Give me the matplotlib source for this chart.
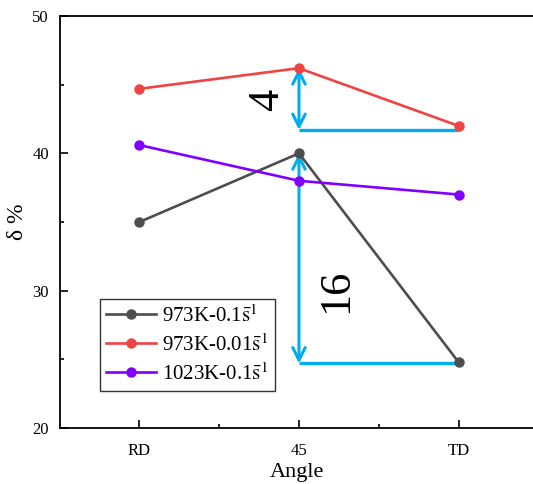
import matplotlib.pyplot as plt
from matplotlib.ticker import MultipleLocator

plt.rcParams['font.family'] = ['Liberation Serif', 'DejaVu Serif']
plt.rcParams['mathtext.fontset'] = 'stix'

angles = ["RD", "45", "TD"]
labels = [r"973K-0.1$\bar{\mathrm{s}}^{1}$", r"973K-0.01$\bar{\mathrm{s}}^{1}$",
          r"1023K-0.1$\bar{\mathrm{s}}^{1}$"]
gray_vals = [35.0, 40.0, 24.8]
red_vals = [44.7, 46.2, 42.0]
purple_vals = [40.6, 38.0, 37.0]
colors = ["#4d4d4d", "#f04343", "#7f00ff"]

# annotation levels (difference markers)
upper_low, upper_high = 41.7, 46.2
lower_low, lower_high = 24.7, 40.0
cyan = "#00aeef"


def main():
    fig = plt.figure(figsize=(5.33, 4.84), dpi=100)
    ax = fig.add_axes([60 / 533, 1 - 428 / 484, 1 - 60 / 533, (428 - 16) / 484])

    x = list(range(len(angles)))
    for vals, lab, c in zip([gray_vals, red_vals, purple_vals], labels, colors):
        ax.plot(x, vals, color=c, lw=1.9, marker='o', ms=6.5, label=lab, zorder=3)

    # difference arrows
    ax.plot([1, 2], [upper_low, upper_low], color=cyan, lw=2.4, zorder=2,
            solid_capstyle='butt')
    ax.plot([1, 2], [lower_low, lower_low], color=cyan, lw=2.4, zorder=2,
            solid_capstyle='butt')
    for lo, hi in [(upper_low, upper_high), (lower_low, lower_high)]:
        ax.annotate("", xy=(1, hi), xytext=(1, lo),
                    arrowprops=dict(arrowstyle='<->,head_length=0.9,head_width=0.45',
                                    color=cyan, lw=2.2, shrinkA=0, shrinkB=0),
                    zorder=2)
    ax.text(0.80, 43.9, "4", rotation=90, fontsize=32, ha='center', va='center')
    ax.text(1.23, 30.0, "16", rotation=90, fontsize=32, ha='center', va='center')

    ax.set_xlim(-0.498, 2.467)
    ax.set_ylim(20, 50)
    ax.set_xticks(x)
    ax.set_xticklabels(angles)
    ax.xaxis.set_minor_locator(MultipleLocator(0.5))
    ax.yaxis.set_major_locator(MultipleLocator(10))
    ax.yaxis.set_minor_locator(MultipleLocator(5))
    ax.tick_params(which='both', direction='in', labelsize=12, width=1.2)
    ax.tick_params(which='major', length=6, pad=8)
    ax.tick_params(which='minor', length=3)
    ax.tick_params(axis='x', which='major', pad=11)
    for s in ['left', 'bottom', 'top']:
        ax.spines[s].set_linewidth(1.3)
    ax.spines['right'].set_visible(False)

    ax.set_xlabel("Angle", fontsize=16, labelpad=3)
    ax.set_ylabel("\u03b4 %", fontsize=17, labelpad=3)

    leg = ax.legend(loc='lower left', bbox_to_anchor=(0.075, 0.08), fontsize=15,
                    frameon=True, fancybox=False, edgecolor='black',
                    handlelength=2.4, handletextpad=0.3, borderpad=0.3,
                    labelspacing=0.35, borderaxespad=0.2)
    leg.get_frame().set_linewidth(1.0)

    fig.savefig("out.png", dpi=100)


if __name__ == "__main__":
    main()
